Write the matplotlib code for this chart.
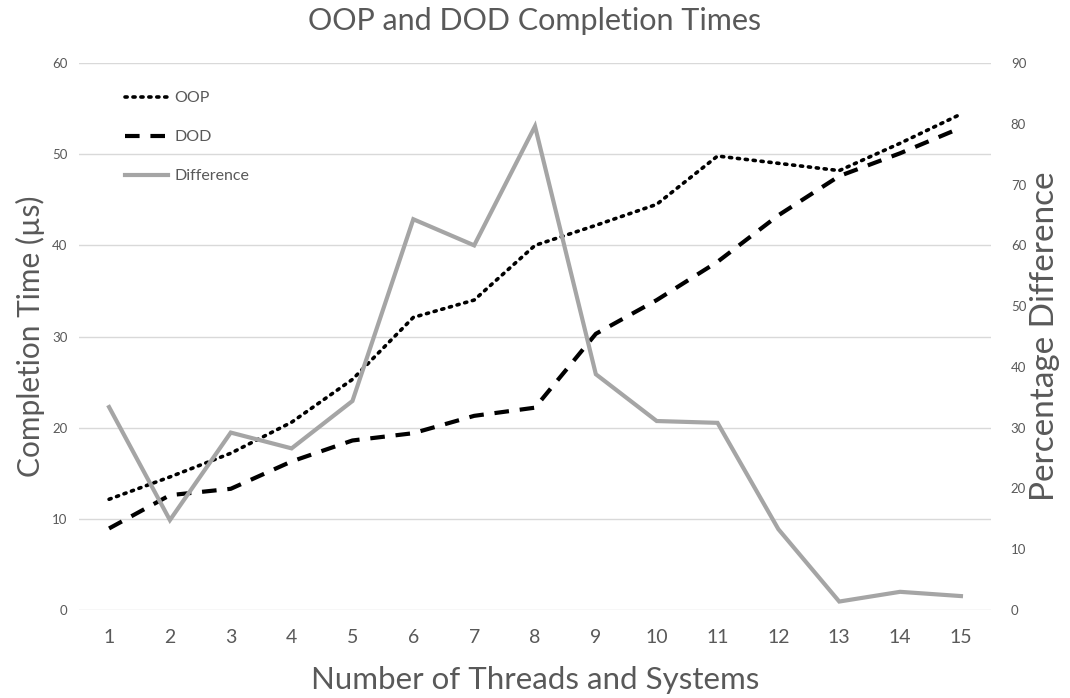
import matplotlib
matplotlib.use("Agg")
import matplotlib.pyplot as plt
from matplotlib.lines import Line2D

plt.rcParams['font.family'] = ['Lato', 'DejaVu Sans']

threads = list(range(1, 16))
oop_times = [12.15, 14.6, 17.2, 20.6, 25.3, 32.1, 34.0, 40.0, 42.2, 44.5, 49.8, 49.0, 48.2, 51.2, 54.4]
dod_times = [8.95, 12.6, 13.3, 16.3, 18.6, 19.4, 21.3, 22.2, 30.3, 34.0, 38.2, 43.3, 47.6, 50.1, 52.9]
pct_difference = [33.4, 14.8, 29.2, 26.6, 34.4, 64.3, 60.0, 79.6, 38.8, 31.1, 30.8, 13.3, 1.4, 3.0, 2.3]

left_ticks = [0, 10, 20, 30, 40, 50, 60]
right_ticks = [0, 10, 20, 30, 40, 50, 60, 70, 80, 90]

text_gray = '#595959'
grid_gray = '#D9D9D9'
diff_gray = '#A5A5A5'

oop_style = (0, (0.6, 1.6))
dod_style = (0, (3.5, 2.6))

fig = plt.figure(figsize=(10.70, 6.98), dpi=100)
ax = fig.add_axes([0.0735, 0.126, 0.853, 0.7837])
ax2 = ax.twinx()

ax.plot(threads, oop_times, color='black', lw=2.6, linestyle=oop_style,
        dash_capstyle='round', label='OOP', zorder=3)
ax.plot(threads, dod_times, color='black', lw=3.0, linestyle=dod_style,
        label='DOD', zorder=3)
ax2.plot(threads, pct_difference, color=diff_gray, lw=3.0, label='Difference',
         solid_joinstyle='miter', zorder=2)

ax.set_xlim(0.5, 15.5)
ax.set_ylim(0, 60)
ax2.set_ylim(0, 90)
ax.set_yticks(left_ticks)
ax2.set_yticks(right_ticks)
ax.set_xticks(threads)
ax.set_xticklabels([str(t) for t in threads])

ax.grid(axis='y', color=grid_gray, lw=1.0)
ax.set_axisbelow(True)
for a in (ax, ax2):
    for s in a.spines.values():
        s.set_visible(False)

ax.tick_params(axis='y', length=0, pad=8, labelsize=9.5, labelcolor=text_gray)
ax2.tick_params(axis='y', length=0, pad=14, labelsize=9.5, labelcolor=text_gray)
ax.tick_params(axis='x', length=0, pad=14, labelsize=14, labelcolor=text_gray)

ax.set_xlabel('Number of Threads and Systems', fontsize=22.5, color=text_gray, labelpad=14)
ax.set_ylabel('Completion Time (µs)', fontsize=21.5, color=text_gray, labelpad=5)
ax2.set_ylabel('Percentage Difference', fontsize=24, color=text_gray, labelpad=3)
ax.set_title('OOP and DOD Completion Times', fontsize=22, color=text_gray, pad=24)

handles = [
    Line2D([], [], color='black', lw=2.6, linestyle=oop_style, dash_capstyle='round'),
    Line2D([], [], color='black', lw=3.0, linestyle=dod_style),
    Line2D([], [], color=diff_gray, lw=3.0),
]
leg = ax2.legend(handles, ['OOP', 'DOD', 'Difference'], loc='upper left',
                 bbox_to_anchor=(0.035, 0.975), frameon=False, fontsize=11.5,
                 labelcolor=text_gray, handlelength=2.7, handletextpad=0.4,
                 labelspacing=1.55)
leg.set_zorder(5)

fig.savefig('out.png', dpi=100, facecolor='white')
